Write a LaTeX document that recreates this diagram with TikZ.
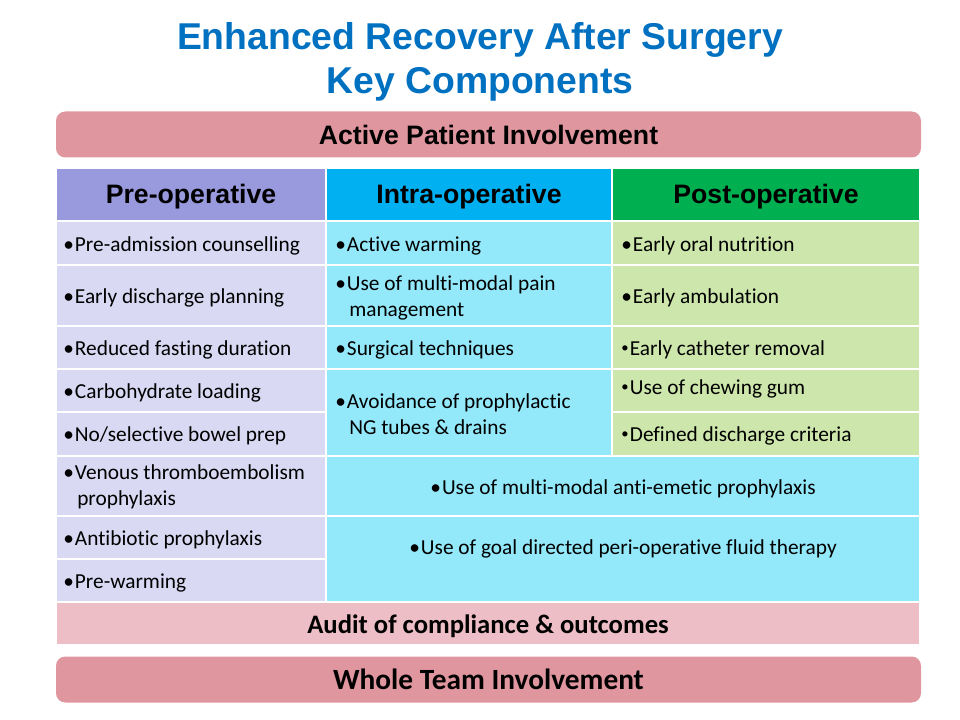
\documentclass[tikz,border=0pt]{standalone}
\usepackage{fontspec}
\setmainfont{Carlito}[Ligatures={NoCommon}]
\newfontfamily\arialfont{Liberation Sans}
\definecolor{titleblue}{HTML}{0070C0}
\definecolor{bandpink}{HTML}{E0969F}
\definecolor{auditpink}{HTML}{EEBEC6}
\definecolor{prehead}{HTML}{9999DD}
\definecolor{intrahead}{HTML}{00B0F0}
\definecolor{posthead}{HTML}{00B050}
\definecolor{precell}{HTML}{D9D9F3}
\definecolor{intracell}{HTML}{93E8FA}
\definecolor{postcell}{HTML}{CDE6AB}
\newcommand{\bul}{•\kern0.8pt}
\newcommand{\sbul}{{\fontsize{11}{11}\selectfont\raisebox{2.5pt}{•}}\kern1pt}
\newcommand{\ind}{\hspace*{10.5pt}}
\tikzset{
  cell/.style={draw=white, line width=1.5pt},
  pre/.style={cell, fill=precell},
  intra/.style={cell, fill=intracell},
  post/.style={cell, fill=postcell},
  head/.style={inner sep=0pt, yshift=-1.5pt, font=\arialfont\bfseries\fontsize{20}{24}\selectfont},
  item/.style={anchor=west, align=left, inner sep=0pt, yshift=-1.5pt, font=\fontsize{16}{19.5}\selectfont},
  mid/.style={align=center, inner sep=0pt, yshift=-1.5pt, font=\fontsize{16}{19.5}\selectfont},
  band/.style={rounded corners=7pt, fill=bandpink, minimum width=648.75pt, minimum height=34.5pt}
}
\begin{document}
\begin{tikzpicture}[x=0.75pt,y=-0.75pt]
\useasboundingbox (0,0) rectangle (960,720);
\node[align=center, text=titleblue, font=\arialfont\bfseries\fontsize{28}{33}\selectfont] (title) at (480,62) {Enhanced Recovery After Surgery\\Key Components};

\node[band, font=\arialfont\bfseries\fontsize{20}{24}\selectfont] (patient) at (488.5,134.5) {Active Patient Involvement};

% header row
\path[cell, fill=prehead] (56,168) rectangle (326,221);
\path[cell, fill=intrahead] (326,168) rectangle (612,221);
\path[cell, fill=posthead] (612,168) rectangle (920,221);
\node[head] (hpre) at (191,195) {Pre-operative};
\node[head] (hintra) at (469,195) {Intra-operative};
\node[head] (hpost) at (766,195) {Post-operative};

% pre-operative column
\path[pre] (56,221) rectangle (326,265);
\path[pre] (56,265) rectangle (326,326);
\path[pre] (56,326) rectangle (326,369);
\path[pre] (56,369) rectangle (326,412);
\path[pre] (56,412) rectangle (326,456);
\path[pre] (56,456) rectangle (326,516);
\path[pre] (56,516) rectangle (326,559);
\path[pre] (56,559) rectangle (326,602);
\node[item] (p1) at (63,244) {\bul Pre-admission counselling};
\node[item] (p2) at (63,296) {\bul Early discharge planning};
\node[item] (p3) at (63,348) {\bul Reduced fasting duration};
\node[item] (p4) at (63,391) {\bul Carbohydrate loading};
\node[item] (p5) at (63,434) {\bul No/selective bowel prep};
\node[item] (p6) at (63,485) {\bul Venous thromboembolism\\\ind prophylaxis};
\node[item] (p7) at (63,538) {\bul Antibiotic prophylaxis};
\node[item] (p8) at (63,581) {\bul Pre-warming};

% intra-operative column
\path[intra] (326,221) rectangle (612,265);
\path[intra] (326,265) rectangle (612,326);
\path[intra] (326,326) rectangle (612,369);
\path[intra] (326,369) rectangle (612,456);
\node[item] (i1) at (335,244) {\bul Active warming};
\node[item] (i2) at (335,296) {\bul Use of multi-modal pain\\\ind management};
\node[item] (i3) at (335,348) {\bul Surgical techniques};
\node[item] (i4) at (335,412) {\bul Avoidance of prophylactic\\\ind NG tubes \& drains};

% post-operative column
\path[post] (612,221) rectangle (920,265);
\path[post] (612,265) rectangle (920,326);
\path[post] (612,326) rectangle (920,369);
\path[post] (612,369) rectangle (920,412);
\path[post] (612,412) rectangle (920,456);
\node[item] (o1) at (621,244) {\bul Early oral nutrition};
\node[item] (o2) at (621,296) {\bul Early ambulation};
\node[item] (o3) at (621,348) {\sbul Early catheter removal};
\node[item] (o4) at (621,387) {\sbul Use of chewing gum};
\node[item] (o5) at (621,434) {\sbul Defined discharge criteria};

% spanning rows
\path[intra] (326,456) rectangle (920,516);
\path[intra] (326,516) rectangle (920,602);
\node[mid] (emetic) at (623,487) {\bul Use of multi-modal anti-emetic prophylaxis};
\node[mid] (fluid) at (623,547) {\bul Use of goal directed peri-operative fluid therapy};

\path[cell, fill=auditpink] (56,602) rectangle (920,645);
\node[font=\bfseries\fontsize{20}{24}\selectfont, inner sep=0pt, yshift=-1.5pt] (audit) at (488,624) {Audit of compliance \& outcomes};

\node[band, font=\bfseries\fontsize{22}{26}\selectfont] (team) at (488.5,679.5) {Whole Team Involvement};
\end{tikzpicture}
\end{document}
